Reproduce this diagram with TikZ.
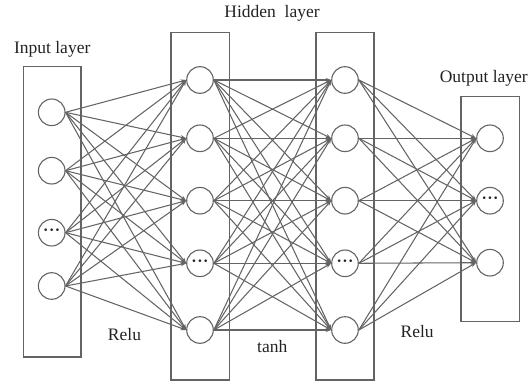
\documentclass[tikz,border=0pt]{standalone}
\usepackage{fontspec}
\setmainfont{Liberation Serif}
\usetikzlibrary{arrows.meta}
\definecolor{lc}{RGB}{100,100,100}
\definecolor{tc}{RGB}{34,34,34}
\newcommand{\nndots}{\textbf{\textperiodcentered\kern0.5pt\textperiodcentered\kern0.5pt\textperiodcentered}}
\begin{document}
\begin{tikzpicture}[x=1pt,y=-1pt,
  neuron/.style={circle,draw=lc,line width=1.1pt,fill=white,minimum size=26.6pt,inner sep=0pt,text=tc,font=\fontsize{16}{18}\selectfont},
  layerbox/.style={draw=lc,line width=1.2pt},
  conn/.style={draw=lc,line width=1.05pt,-{Stealth[length=5.5pt,width=4pt]}},
  lbl/.style={anchor=base,text=tc,font=\fontsize{17.5}{20}\selectfont,inner sep=0pt}]
\useasboundingbox (0,0) rectangle (532,385);
% boxes
\draw[layerbox] (23.3,66.7) rectangle (81,357);
\draw[layerbox] (171,32.3) rectangle (229.3,380);
\draw[layerbox] (316,32.3) rectangle (374,380);
\draw[layerbox] (461,96.5) rectangle (519.3,321.7);
% input
\node[neuron] (i1) at (51.7,112.3) {};
\node[neuron] (i2) at (51.7,170.7) {};
\node[neuron] (i3) at (51.7,232.7) {\nndots};
\node[neuron] (i4) at (51.7,286) {};
% hidden 1
\node[neuron] (a1) at (200,80) {};
\node[neuron] (a2) at (200,138.3) {};
\node[neuron] (a3) at (200,200.7) {};
\node[neuron] (a4) at (200,263.3) {\nndots};
\node[neuron] (a5) at (200,330) {};
% hidden 2
\node[neuron] (b1) at (345,80) {};
\node[neuron] (b2) at (345,138.3) {};
\node[neuron] (b3) at (345,200.7) {};
\node[neuron] (b4) at (345,263.3) {\nndots};
\node[neuron] (b5) at (345,330) {};
% output
\node[neuron] (o1) at (490,138.3) {};
\node[neuron] (o2) at (490,200.7) {\nndots};
\node[neuron] (o3) at (490,262.7) {};
% connections
\foreach \s in {1,2,3,4}{\foreach \t in {1,...,5}{\draw[conn] (i\s.east) -- (a\t.west);}}
\foreach \s in {1,...,5}{\foreach \t in {1,...,5}{\draw[conn] (a\s.east) -- (b\t.west);}}
\foreach \s in {1,...,5}{\foreach \t in {1,2,3}{\draw[conn] (b\s.east) -- (o\t.west);}}
% labels
\node[lbl] (tin) at (52.2,54) {Input layer};
\node[lbl] (thid) at (272,18) {Hidden\ \ layer};
\node[lbl] (tout) at (483.8,82.7) {Output layer};
\node[lbl] (r1) at (124.5,340.3) {Relu};
\node[lbl] (th) at (272.2,352) {tanh};
\node[lbl] (r2) at (417.2,337.7) {Relu};
\end{tikzpicture}
\end{document}
